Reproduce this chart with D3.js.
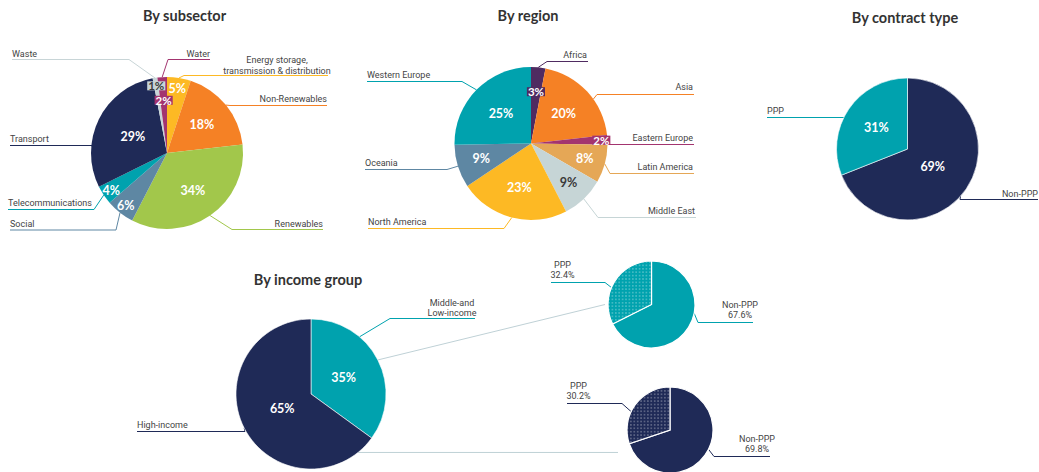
<!DOCTYPE html>
<html>
<head>
<meta charset="utf-8">
<script src="https://cdn.jsdelivr.net/npm/d3@7"></script>
<style>
  body { margin: 0; background: #fff; }
  svg { display: block; }
</style>
</head>
<body>
<svg id="chart" width="1039" height="472"></svg>
<script>
// ---- Data: shares in percent ----
const subsectorNames = ["Energy storage,\ntransmission & distribution", "Non-Renewables", "Renewables", "Social",
  "Telecommunications", "Transport", "Waste", "Water"];
const subsectorValues = [5, 18, 34, 6, 4, 29, 1, 2];

const regionNames = ["Africa", "Asia", "Eastern Europe", "Latin America", "Middle East",
  "North America", "Oceania", "Western Europe"];
const regionValues = [3, 20, 2, 8, 9, 23, 9, 25];

const contractNames = ["Non-PPP", "PPP"];
const contractValues = [69, 31];

const incomeNames = ["Middle-and\nLow-income", "High-income"];
const incomeValues = [35, 65];

const midLowContractNames = ["Non-PPP", "PPP"];
const midLowContractValues = [67.6, 32.4];

const highContractNames = ["Non-PPP", "PPP"];
const highContractValues = [69.8, 30.2];

// ---- Palette ----
const subsectorColors = ["#fdb924", "#f58125", "#a2c74b", "#5e87a3", "#00a2ae", "#1f2a57", "#c8d5d7", "#a3346f"];
const regionColors = ["#4f2b61", "#f58125", "#a3346f", "#e5a756", "#c6d5d6", "#fdb924", "#5e87a3", "#00a2ae"];
const contractColors = ["#1f2a57", "#00a2ae"];
const incomeColors = ["#00a2ae", "#1f2a57"];
const TEXT = "#444";
const TITLE = "#333";
const CONNECTOR = "#bfd1d6";

const svg = d3.select("#chart");
const defs = svg.append("defs");

// Dotted fill used for the PPP slices of the small breakdown pies
function dotPattern(id, base) {
  const p = defs.append("pattern").attr("id", id)
    .attr("patternUnits", "userSpaceOnUse").attr("width", 3.4).attr("height", 3.4);
  p.append("rect").attr("width", 3.4).attr("height", 3.4).attr("fill", base);
  p.append("circle").attr("cx", 1.7).attr("cy", 1.7).attr("r", 0.55)
    .attr("fill", "#fff").attr("fill-opacity", 0.75);
  return `url(#${id})`;
}

const pct0 = v => `${v}%`;
const pct1 = d3.format(".1f");

function pointAt(o, angle, radius) {
  return [o.cx + radius * Math.sin(angle), o.cy - radius * Math.cos(angle)];
}

function drawPie(names, values, colors, o) {
  const g = svg.append("g");
  const pie = d3.pie().sort(null).value(d => d.value);
  const data = names.map((n, i) => ({ name: n, value: values[i], color: colors[i], fill: (o.fills && o.fills[i]) || colors[i] }));
  const arcs = pie(data);
  const arc = d3.arc().innerRadius(0).outerRadius(o.r);

  // leader lines and category labels
  arcs.forEach((d, i) => {
    const L = o.leaders[i];
    const a = d.startAngle + L.t * (d.endAngle - d.startAngle);
    const s = pointAt(o, a, o.r);
    const path = d3.path();
    path.moveTo(s[0], s[1]);
    path.lineTo(L.elbowX, L.lineY);
    path.lineTo(L.endX, L.lineY);
    g.append("path").attr("d", path.toString())
      .attr("fill", "none").attr("stroke", d.data.color).attr("stroke-width", 1);
    const lines = L.text ? L.text(d.data) : d.data.name.split("\n");
    const t = g.append("text")
      .attr("text-anchor", L.anchor)
      .attr("font-family", "Roboto, sans-serif")
      .attr("font-size", 9)
      .attr("fill", TEXT);
    lines.forEach((ln, k) => {
      t.append("tspan").attr("x", L.textX).attr("y", L.textY + k * (L.lead || 10.5)).text(ln);
    });
  });

  // slices
  g.append("g").attr("transform", `translate(${o.cx},${o.cy})`)
    .selectAll("path").data(arcs).enter().append("path")
    .attr("d", arc)
    .attr("fill", d => d.data.fill)
    .attr("stroke", o.stroke || "none")
    .attr("stroke-width", o.strokeWidth || 0);

  // value labels; the thinnest slices get a tag in their own colour
  if (o.labelR) {
    arcs.forEach((d, i) => {
      const a = (d.startAngle + d.endAngle) / 2;
      const p = pointAt(o, a, o.r * o.labelR[i]);
      const light = d3.lab(d.data.color).l > 82;
      const tagged = d.data.value <= 3;
      const txt = g.append("text")
        .attr("x", p[0]).attr("y", p[1])
        .attr("text-anchor", "middle")
        .attr("dominant-baseline", "central")
        .attr("font-family", "Lato, sans-serif")
        .attr("font-weight", 700)
        .attr("font-size", tagged ? 11.5 : 12.5)
        .attr("fill", light ? "#3a3a3a" : "#fff")
        .text(pct0(d.data.value));
      if (tagged) {
        const b = txt.node().getBBox();
        g.insert("rect", () => txt.node())
          .attr("x", b.x - 1).attr("y", b.y + 2)
          .attr("width", b.width + 2).attr("height", b.height - 4)
          .attr("fill", d.data.color);
      }
    });
  }
  return arcs;
}

function title(text, x, y) {
  svg.append("text").attr("x", x).attr("y", y)
    .attr("text-anchor", "middle")
    .attr("font-family", "Lato, sans-serif")
    .attr("font-weight", 700)
    .attr("font-size", 14.5)
    .attr("fill", TITLE)
    .text(text);
}

// ---- Titles ----
title("By subsector", 184.5, 20.5);
title("By region", 528, 20.5);
title("By contract type", 905, 22.5);
title("By income group", 308, 284.5);

// ---- By subsector ----
const subLayout = { cx: 167, cy: 153, r: 76,
  labelR: [0.86, 0.59, 0.6, 0.88, 0.88, 0.5, 0.895, 0.695],
  leaders: [
    { t: 0.5, elbowX: 184, lineY: 75.5, endX: 328, anchor: "middle", textX: 277, textY: 63 },
    { t: 0.5, elbowX: 230, lineY: 105.5, endX: 327, anchor: "end", textX: 327, textY: 102 },
    { t: 0.5, elbowX: 232, lineY: 229.5, endX: 323, anchor: "end", textX: 323, textY: 227 },
    { t: 0.5, elbowX: 116, lineY: 230, endX: 10, anchor: "start", textX: 10, textY: 227 },
    { t: 0.5, elbowX: 94, lineY: 209.5, endX: 8, anchor: "start", textX: 8, textY: 206 },
    { t: 0.3, elbowX: 92, lineY: 145.5, endX: 10, anchor: "start", textX: 10, textY: 141.5 },
    { t: 0.5, elbowX: 129, lineY: 59.5, endX: 12, anchor: "start", textX: 12, textY: 56.5 },
    { t: 0.5, elbowX: 168, lineY: 59.5, endX: 210, anchor: "end", textX: 210, textY: 56.5 }
  ] };
drawPie(subsectorNames, subsectorValues, subsectorColors, subLayout);

// ---- By region ----
const regLayout = { cx: 531, cy: 143.5, r: 76.5,
  labelR: [0.68, 0.58, 0.92, 0.73, 0.71, 0.6, 0.68, 0.55],
  leaders: [
    { t: 0.5, elbowX: 547, lineY: 61.5, endX: 588, anchor: "end", textX: 587, textY: 58 },
    { t: 0.6, elbowX: 597, lineY: 94.5, endX: 694, anchor: "end", textX: 693, textY: 89.5 },
    { t: 0.9, elbowX: 608, lineY: 144.5, endX: 694, anchor: "end", textX: 693, textY: 141 },
    { t: 0.5, elbowX: 610, lineY: 173.5, endX: 694, anchor: "end", textX: 693, textY: 170 },
    { t: 0.5, elbowX: 598, lineY: 217.5, endX: 696, anchor: "end", textX: 695, textY: 213.5 },
    { t: 0.5, elbowX: 504, lineY: 228.5, endX: 368, anchor: "start", textX: 368, textY: 224.5 },
    { t: 0.5, elbowX: 447, lineY: 169.5, endX: 365, anchor: "start", textX: 365, textY: 166 },
    { t: 0.5, elbowX: 462, lineY: 81.5, endX: 367, anchor: "start", textX: 367, textY: 78 }
  ] };
drawPie(regionNames, regionValues, regionColors, regLayout);

// ---- By contract type ----
const conLayout = { cx: 907.5, cy: 149, r: 71, labelR: [0.43, 0.53],
  stroke: "#fff", strokeWidth: 0.6,
  leaders: [
    { t: 0.53, elbowX: 960, lineY: 199.5, endX: 1038, anchor: "end", textX: 1038, textY: 196.5 },
    { t: 0.43, elbowX: 843, lineY: 117.5, endX: 767, anchor: "start", textX: 767, textY: 114 }
  ] };
drawPie(contractNames, contractValues, contractColors, conLayout);

// ---- By income group, with PPP split of each group ----
const incLayout = { cx: 311, cy: 394, r: 75, labelR: [0.49, 0.43],
  stroke: "#fff", strokeWidth: 0.6,
  leaders: [
    { t: 0.32, elbowX: 390, lineY: 318.5, endX: 475, anchor: "middle", textX: 452, textY: 305.5 },
    { t: 0.5, elbowX: 245, lineY: 431.5, endX: 137, anchor: "start", textX: 137, textY: 427.5 }
  ] };

const midLowLayout = { cx: 651.5, cy: 304.5, r: 43.5, stroke: "#fff", strokeWidth: 1.2,
  fills: [null, dotPattern("dotsTeal", incomeColors[0])],
  leaders: [
    { t: 0.417, elbowX: 698, lineY: 322.5, endX: 753, anchor: "middle", textX: 740, textY: 308, lead: 9.8,
      text: d => [d.name, pct1(d.value) + "%"] },
    { t: 0.425, elbowX: 605, lineY: 282.5, endX: 551, anchor: "middle", textX: 562.5, textY: 268, lead: 9.8,
      text: d => [d.name, pct1(d.value) + "%"] }
  ] };
const highLayout = { cx: 670, cy: 430, r: 43, stroke: "#fff", strokeWidth: 1.2,
  fills: [null, dotPattern("dotsNavy", incomeColors[1])],
  leaders: [
    { t: 0.464, elbowX: 714, lineY: 456.5, endX: 770, anchor: "middle", textX: 757, textY: 442, lead: 9.8,
      text: d => [d.name, pct1(d.value) + "%"] },
    { t: 0.405, elbowX: 622, lineY: 403.5, endX: 567, anchor: "middle", textX: 578.5, textY: 389, lead: 9.8,
      text: d => [d.name, pct1(d.value) + "%"] }
  ] };

// connectors from each income slice to its breakdown pie (drawn first, underneath)
const incPie = d3.pie().sort(null)(incomeValues);
const connectors = [
  { slice: 0, t: 0.5, to: [midLowLayout.cx - midLowLayout.r - 3, midLowLayout.cy] },
  { slice: 1, t: 0.065, toX: highLayout.cx - highLayout.r - 9 }
];
connectors.forEach(c => {
  const d = incPie[c.slice];
  const s = pointAt(incLayout, d.startAngle + c.t * (d.endAngle - d.startAngle), incLayout.r);
  const e = c.to || [c.toX, s[1]];
  svg.append("line").attr("x1", s[0]).attr("y1", s[1]).attr("x2", e[0]).attr("y2", e[1])
    .attr("stroke", CONNECTOR).attr("stroke-width", 1);
});

drawPie(incomeNames, incomeValues, incomeColors, incLayout);
drawPie(midLowContractNames, midLowContractValues, [incomeColors[0], incomeColors[0]], midLowLayout);
drawPie(highContractNames, highContractValues, [incomeColors[1], incomeColors[1]], highLayout);
</script>
</body>
</html>
